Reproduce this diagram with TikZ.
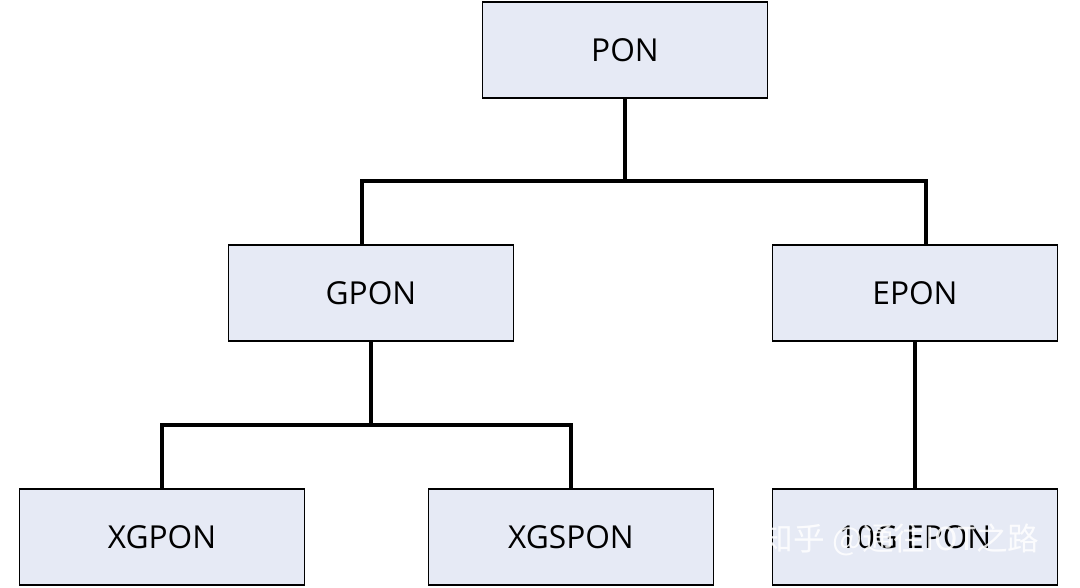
\documentclass[tikz,border=0pt]{standalone}
\usepackage{fontspec}
\setmainfont{Open Sans}
\newfontfamily\cjk{Noto Sans CJK SC}
\definecolor{boxfill}{RGB}{230,234,245}
\begin{document}
\begin{tikzpicture}[x=0.01cm,y=-0.01cm,
  box/.style={draw=black,line width=0.5pt,fill=boxfill,minimum width=2.85cm,minimum height=0.96cm,inner sep=0pt,font=\fontsize{9}{10}\selectfont},
  conn/.style={line width=0.9pt}]
\useasboundingbox (0,0) rectangle (1080,587);
\node[box] (pon) at (625,50) {PON};
\node[box] (gpon) at (371,293) {GPON};
\node[box] (epon) at (915,293) {EPON};
\node[box] (xg) at (162,537) {XGPON};
\node[box] (xgs) at (571,537) {XGSPON};
\node[box] (tge) at (915,537) {10G EPON};
\coordinate (b1) at (625,181);
\coordinate (b2) at (371,425);
\draw[conn] (pon.south) -- (b1);
\draw[conn] (gpon.north -| 362,0) |- (b1) -| (epon.north -| 926,0);
\draw[conn] (gpon.south) -- (b2);
\draw[conn] (xg.north) |- (b2) -| (xgs.north);
\draw[conn] (epon.south) -- (tge.north);
\node[font=\cjk\fontsize{9}{10}\selectfont,text=white,opacity=0.85,anchor=east] (wm) at (1052,540) {知乎 @通往IOT之路};
\end{tikzpicture}
\end{document}
